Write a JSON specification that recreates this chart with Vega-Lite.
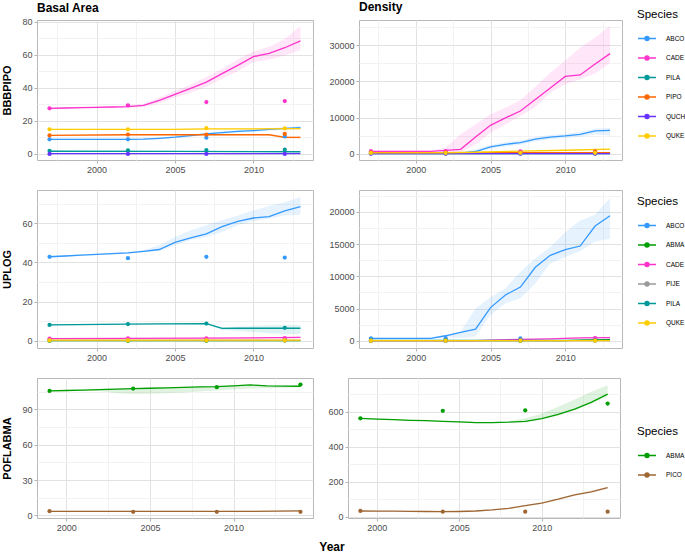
{
"$schema": "https://vega.github.io/schema/vega-lite/v6.json",
"padding": {"top": 0, "left": 1, "right": 0, "bottom": 0},
"background": "white",
"title": {"text": "Year", "orient": "bottom", "anchor": "middle", "fontSize": 12, "fontWeight": "bold", "color": "#000", "offset": 9, "dx": -12},
"datasets": {
"L": [
{"p":"1B","sp":"ABCO","yr":1997,"f":8.7,"lo":8.3,"hi":9.1},{"p":"1B","sp":"ABCO","yr":1998,"f":8.7,"lo":8.3,"hi":9.1},{"p":"1B","sp":"ABCO","yr":1999,"f":8.7,"lo":8.3,"hi":9.1},{"p":"1B","sp":"ABCO","yr":2000,"f":8.7,"lo":8.3,"hi":9.1},{"p":"1B","sp":"ABCO","yr":2001,"f":8.7,"lo":8.3,"hi":9.1},{"p":"1B","sp":"ABCO","yr":2002,"f":8.7,"lo":8.3,"hi":9.1},{"p":"1B","sp":"ABCO","yr":2003,"f":8.8,"lo":8.4,"hi":9.2},{"p":"1B","sp":"ABCO","yr":2004,"f":9.3,"lo":8.8,"hi":9.8},{"p":"1B","sp":"ABCO","yr":2005,"f":10.0,"lo":9.4,"hi":10.6},{"p":"1B","sp":"ABCO","yr":2006,"f":11.0,"lo":10.3,"hi":11.7},{"p":"1B","sp":"ABCO","yr":2007,"f":12.0,"lo":11.3,"hi":12.7},{"p":"1B","sp":"ABCO","yr":2008,"f":12.8,"lo":12.0,"hi":13.6},{"p":"1B","sp":"ABCO","yr":2009,"f":13.5,"lo":12.7,"hi":14.3},{"p":"1B","sp":"ABCO","yr":2010,"f":14.0,"lo":13.2,"hi":14.8},{"p":"1B","sp":"ABCO","yr":2011,"f":14.7,"lo":13.9,"hi":15.5},{"p":"1B","sp":"ABCO","yr":2012,"f":15.3,"lo":14.5,"hi":16.1},{"p":"1B","sp":"ABCO","yr":2013,"f":15.8,"lo":14.8,"hi":16.8},
{"p":"1B","sp":"CADE","yr":1997,"f":27.5,"lo":27,"hi":28},{"p":"1B","sp":"CADE","yr":1998,"f":27.7,"lo":27.2,"hi":28.2},{"p":"1B","sp":"CADE","yr":1999,"f":27.9,"lo":27.4,"hi":28.4},{"p":"1B","sp":"CADE","yr":2000,"f":28.1,"lo":27.6,"hi":28.6},{"p":"1B","sp":"CADE","yr":2001,"f":28.3,"lo":27.8,"hi":28.8},{"p":"1B","sp":"CADE","yr":2002,"f":28.5,"lo":27.8,"hi":29.2},{"p":"1B","sp":"CADE","yr":2003,"f":29.3,"lo":28.3,"hi":30.3},{"p":"1B","sp":"CADE","yr":2004,"f":32.3,"lo":30.5,"hi":34},{"p":"1B","sp":"CADE","yr":2005,"f":36.0,"lo":34,"hi":38},{"p":"1B","sp":"CADE","yr":2006,"f":39.6,"lo":37,"hi":42},{"p":"1B","sp":"CADE","yr":2007,"f":43.4,"lo":40.5,"hi":46.5},{"p":"1B","sp":"CADE","yr":2008,"f":48.5,"lo":45.5,"hi":51.5},{"p":"1B","sp":"CADE","yr":2009,"f":53.5,"lo":50,"hi":57},{"p":"1B","sp":"CADE","yr":2010,"f":58.8,"lo":55.5,"hi":62},{"p":"1B","sp":"CADE","yr":2011,"f":60.8,"lo":57,"hi":64.8},{"p":"1B","sp":"CADE","yr":2012,"f":64.2,"lo":59.5,"hi":69.5},{"p":"1B","sp":"CADE","yr":2013,"f":68.3,"lo":62.8,"hi":77.4},
{"p":"1B","sp":"PILA","yr":1997,"f":1.5,"lo":1.2,"hi":1.8},{"p":"1B","sp":"PILA","yr":2005,"f":1.4,"lo":1.1,"hi":1.7},{"p":"1B","sp":"PILA","yr":2013,"f":1.2,"lo":0.9,"hi":1.5},
{"p":"1B","sp":"PIPO","yr":1997,"f":11.1,"lo":10.7,"hi":11.5},{"p":"1B","sp":"PIPO","yr":2002,"f":11.5,"lo":11.1,"hi":11.9},{"p":"1B","sp":"PIPO","yr":2011,"f":11.5,"lo":11.0,"hi":12.0},{"p":"1B","sp":"PIPO","yr":2012,"f":9.9,"lo":9.2,"hi":10.6},{"p":"1B","sp":"PIPO","yr":2013,"f":9.9,"lo":9.1,"hi":10.7},
{"p":"1B","sp":"QUCH","yr":1997,"f":0.1,"lo":0,"hi":0.2},{"p":"1B","sp":"QUCH","yr":2013,"f":0.1,"lo":0,"hi":0.2},
{"p":"1B","sp":"QUKE","yr":1997,"f":14.8,"lo":14.4,"hi":15.2},{"p":"1B","sp":"QUKE","yr":2005,"f":14.8,"lo":14.4,"hi":15.2},{"p":"1B","sp":"QUKE","yr":2007,"f":15.0,"lo":14.5,"hi":15.5},{"p":"1B","sp":"QUKE","yr":2013,"f":15.2,"lo":14.6,"hi":15.8},

{"p":"1D","sp":"ABCO","yr":1997,"f":100,"lo":-50,"hi":250},{"p":"1D","sp":"ABCO","yr":2001,"f":100,"lo":-50,"hi":250},{"p":"1D","sp":"ABCO","yr":2002,"f":120,"lo":-30,"hi":300},{"p":"1D","sp":"ABCO","yr":2003,"f":150,"lo":0,"hi":400},{"p":"1D","sp":"ABCO","yr":2004,"f":600,"lo":200,"hi":1200},{"p":"1D","sp":"ABCO","yr":2005,"f":1900,"lo":1400,"hi":2400},{"p":"1D","sp":"ABCO","yr":2006,"f":2600,"lo":2000,"hi":3200},{"p":"1D","sp":"ABCO","yr":2007,"f":3050,"lo":2450,"hi":3650},{"p":"1D","sp":"ABCO","yr":2008,"f":4000,"lo":3400,"hi":4600},{"p":"1D","sp":"ABCO","yr":2009,"f":4600,"lo":4000,"hi":5200},{"p":"1D","sp":"ABCO","yr":2010,"f":4900,"lo":4300,"hi":5500},{"p":"1D","sp":"ABCO","yr":2011,"f":5350,"lo":4700,"hi":6000},{"p":"1D","sp":"ABCO","yr":2012,"f":6300,"lo":5300,"hi":7000},{"p":"1D","sp":"ABCO","yr":2013,"f":6450,"lo":5000,"hi":7100},
{"p":"1D","sp":"CADE","yr":1997,"f":600,"lo":400,"hi":850},{"p":"1D","sp":"CADE","yr":1998,"f":600,"lo":400,"hi":850},{"p":"1D","sp":"CADE","yr":1999,"f":600,"lo":400,"hi":850},{"p":"1D","sp":"CADE","yr":2000,"f":600,"lo":400,"hi":850},{"p":"1D","sp":"CADE","yr":2001,"f":650,"lo":400,"hi":900},{"p":"1D","sp":"CADE","yr":2002,"f":900,"lo":300,"hi":1700},{"p":"1D","sp":"CADE","yr":2003,"f":1200,"lo":300,"hi":5400},{"p":"1D","sp":"CADE","yr":2004,"f":4600,"lo":2600,"hi":8100},{"p":"1D","sp":"CADE","yr":2005,"f":7850,"lo":5800,"hi":10900},{"p":"1D","sp":"CADE","yr":2006,"f":9900,"lo":8100,"hi":12700},{"p":"1D","sp":"CADE","yr":2007,"f":11800,"lo":10400,"hi":14800},{"p":"1D","sp":"CADE","yr":2008,"f":15000,"lo":12900,"hi":18500},{"p":"1D","sp":"CADE","yr":2009,"f":18200,"lo":16900,"hi":22400},{"p":"1D","sp":"CADE","yr":2010,"f":21400,"lo":19200,"hi":25700},{"p":"1D","sp":"CADE","yr":2011,"f":21800,"lo":20600,"hi":29400},{"p":"1D","sp":"CADE","yr":2012,"f":24800,"lo":22200,"hi":32100},{"p":"1D","sp":"CADE","yr":2013,"f":27700,"lo":25200,"hi":35400},
{"p":"1D","sp":"PILA","yr":1997,"f":50,"lo":0,"hi":100},{"p":"1D","sp":"PILA","yr":2013,"f":50,"lo":0,"hi":100},
{"p":"1D","sp":"PIPO","yr":1997,"f":250,"lo":150,"hi":350},{"p":"1D","sp":"PIPO","yr":2013,"f":250,"lo":150,"hi":350},
{"p":"1D","sp":"QUCH","yr":1997,"f":0,"lo":-30,"hi":30},{"p":"1D","sp":"QUCH","yr":2013,"f":0,"lo":-30,"hi":30},
{"p":"1D","sp":"QUKE","yr":1997,"f":200,"lo":100,"hi":300},{"p":"1D","sp":"QUKE","yr":2002,"f":250,"lo":150,"hi":350},{"p":"1D","sp":"QUKE","yr":2004,"f":400,"lo":300,"hi":500},{"p":"1D","sp":"QUKE","yr":2007,"f":700,"lo":550,"hi":850},{"p":"1D","sp":"QUKE","yr":2010,"f":950,"lo":800,"hi":1100},{"p":"1D","sp":"QUKE","yr":2013,"f":1250,"lo":1050,"hi":1450},

{"p":"2B","sp":"ABCO","yr":1997,"f":42.9,"lo":42.5,"hi":43.3},{"p":"2B","sp":"ABCO","yr":1998,"f":43.3,"lo":42.9,"hi":43.7},{"p":"2B","sp":"ABCO","yr":1999,"f":43.7,"lo":43.3,"hi":44.1},{"p":"2B","sp":"ABCO","yr":2000,"f":44.1,"lo":43.7,"hi":44.5},{"p":"2B","sp":"ABCO","yr":2001,"f":44.5,"lo":44.1,"hi":44.9},{"p":"2B","sp":"ABCO","yr":2002,"f":44.9,"lo":44.5,"hi":45.3},{"p":"2B","sp":"ABCO","yr":2003,"f":45.7,"lo":45.3,"hi":46.3},{"p":"2B","sp":"ABCO","yr":2004,"f":46.6,"lo":45.8,"hi":48.8},{"p":"2B","sp":"ABCO","yr":2005,"f":50.2,"lo":48.8,"hi":53},{"p":"2B","sp":"ABCO","yr":2006,"f":52.5,"lo":51.4,"hi":56.4},{"p":"2B","sp":"ABCO","yr":2007,"f":54.6,"lo":53,"hi":59},{"p":"2B","sp":"ABCO","yr":2008,"f":58.3,"lo":55.6,"hi":61.5},{"p":"2B","sp":"ABCO","yr":2009,"f":61.0,"lo":59,"hi":64},{"p":"2B","sp":"ABCO","yr":2010,"f":62.7,"lo":61,"hi":66.6},{"p":"2B","sp":"ABCO","yr":2011,"f":63.4,"lo":62.4,"hi":68.8},{"p":"2B","sp":"ABCO","yr":2012,"f":66.3,"lo":64,"hi":70.8},{"p":"2B","sp":"ABCO","yr":2013,"f":68.5,"lo":64.4,"hi":73.4},
{"p":"2B","sp":"ABMA","yr":1997,"f":0.1,"lo":0,"hi":0.2},{"p":"2B","sp":"ABMA","yr":2013,"f":0.1,"lo":0,"hi":0.2},
{"p":"2B","sp":"CADE","yr":1997,"f":1.1,"lo":0.9,"hi":1.3},{"p":"2B","sp":"CADE","yr":2007,"f":1.3,"lo":1.1,"hi":1.5},{"p":"2B","sp":"CADE","yr":2013,"f":1.7,"lo":1.3,"hi":2.1},
{"p":"2B","sp":"PIJE","yr":1997,"f":0.2,"lo":0.1,"hi":0.3},{"p":"2B","sp":"PIJE","yr":2013,"f":0.2,"lo":0.1,"hi":0.3},
{"p":"2B","sp":"PILA","yr":1997,"f":8.1,"lo":7.8,"hi":8.4},{"p":"2B","sp":"PILA","yr":2002,"f":8.5,"lo":8.2,"hi":8.8},{"p":"2B","sp":"PILA","yr":2004,"f":8.6,"lo":8.3,"hi":8.9},{"p":"2B","sp":"PILA","yr":2007,"f":8.8,"lo":8.4,"hi":9.2},{"p":"2B","sp":"PILA","yr":2008,"f":6.3,"lo":5.5,"hi":7.0},{"p":"2B","sp":"PILA","yr":2009,"f":6.4,"lo":5.0,"hi":7.3},{"p":"2B","sp":"PILA","yr":2010,"f":6.4,"lo":4.5,"hi":7.6},{"p":"2B","sp":"PILA","yr":2011,"f":6.4,"lo":3.8,"hi":7.9},{"p":"2B","sp":"PILA","yr":2012,"f":6.4,"lo":3.4,"hi":8.0},{"p":"2B","sp":"PILA","yr":2013,"f":6.4,"lo":3.3,"hi":8.0},
{"p":"2B","sp":"QUKE","yr":1997,"f":0.3,"lo":0.1,"hi":0.5},{"p":"2B","sp":"QUKE","yr":2013,"f":0.3,"lo":0.1,"hi":0.5},

{"p":"2D","sp":"ABCO","yr":1997,"f":360,"lo":260,"hi":460},{"p":"2D","sp":"ABCO","yr":1998,"f":360,"lo":260,"hi":460},{"p":"2D","sp":"ABCO","yr":1999,"f":360,"lo":260,"hi":460},{"p":"2D","sp":"ABCO","yr":2000,"f":360,"lo":260,"hi":460},{"p":"2D","sp":"ABCO","yr":2001,"f":360,"lo":260,"hi":460},{"p":"2D","sp":"ABCO","yr":2002,"f":770,"lo":600,"hi":950},{"p":"2D","sp":"ABCO","yr":2003,"f":1290,"lo":410,"hi":1440},{"p":"2D","sp":"ABCO","yr":2004,"f":1800,"lo":670,"hi":5000},{"p":"2D","sp":"ABCO","yr":2005,"f":5140,"lo":4010,"hi":6730},{"p":"2D","sp":"ABCO","yr":2006,"f":7100,"lo":5810,"hi":8120},{"p":"2D","sp":"ABCO","yr":2007,"f":8330,"lo":6580,"hi":10700},{"p":"2D","sp":"ABCO","yr":2008,"f":11400,"lo":8900,"hi":12750},{"p":"2D","sp":"ABCO","yr":2009,"f":13260,"lo":11980,"hi":14550},{"p":"2D","sp":"ABCO","yr":2010,"f":14140,"lo":13000,"hi":16860},{"p":"2D","sp":"ABCO","yr":2011,"f":14700,"lo":13900,"hi":18660},{"p":"2D","sp":"ABCO","yr":2012,"f":17800,"lo":15420,"hi":19540},{"p":"2D","sp":"ABCO","yr":2013,"f":19400,"lo":15840,"hi":22160},
{"p":"2D","sp":"ABMA","yr":1997,"f":0,"lo":-30,"hi":30},{"p":"2D","sp":"ABMA","yr":2010,"f":0,"lo":-30,"hi":30},{"p":"2D","sp":"ABMA","yr":2011,"f":100,"lo":50,"hi":150},{"p":"2D","sp":"ABMA","yr":2013,"f":150,"lo":100,"hi":200},
{"p":"2D","sp":"CADE","yr":1997,"f":20,"lo":0,"hi":40},{"p":"2D","sp":"CADE","yr":2004,"f":20,"lo":0,"hi":40},{"p":"2D","sp":"CADE","yr":2005,"f":100,"lo":50,"hi":150},{"p":"2D","sp":"CADE","yr":2007,"f":200,"lo":120,"hi":280},{"p":"2D","sp":"CADE","yr":2009,"f":300,"lo":220,"hi":380},{"p":"2D","sp":"CADE","yr":2011,"f":450,"lo":350,"hi":550},{"p":"2D","sp":"CADE","yr":2013,"f":470,"lo":350,"hi":600},
{"p":"2D","sp":"PIJE","yr":1997,"f":20,"lo":0,"hi":40},{"p":"2D","sp":"PIJE","yr":2013,"f":20,"lo":0,"hi":40},
{"p":"2D","sp":"PILA","yr":1997,"f":50,"lo":20,"hi":80},{"p":"2D","sp":"PILA","yr":2013,"f":50,"lo":20,"hi":80},
{"p":"2D","sp":"QUKE","yr":1997,"f":30,"lo":0,"hi":60},{"p":"2D","sp":"QUKE","yr":2013,"f":30,"lo":0,"hi":60},

{"p":"3B","sp":"ABMA","yr":1999,"f":105.5,"lo":105.2,"hi":105.8},{"p":"3B","sp":"ABMA","yr":2000,"f":105.9,"lo":105.5,"hi":106.3},{"p":"3B","sp":"ABMA","yr":2001,"f":106.3,"lo":105.6,"hi":106.8},{"p":"3B","sp":"ABMA","yr":2002,"f":106.7,"lo":105.4,"hi":107.2},{"p":"3B","sp":"ABMA","yr":2003,"f":107.1,"lo":103.6,"hi":107.6},{"p":"3B","sp":"ABMA","yr":2004,"f":107.5,"lo":103,"hi":107.9},{"p":"3B","sp":"ABMA","yr":2005,"f":107.8,"lo":103.2,"hi":108.3},{"p":"3B","sp":"ABMA","yr":2006,"f":108.2,"lo":103.6,"hi":108.6},{"p":"3B","sp":"ABMA","yr":2007,"f":108.5,"lo":104.2,"hi":108.9},{"p":"3B","sp":"ABMA","yr":2008,"f":108.9,"lo":105,"hi":109.3},{"p":"3B","sp":"ABMA","yr":2009,"f":109.2,"lo":105.8,"hi":109.6},{"p":"3B","sp":"ABMA","yr":2010,"f":109.9,"lo":106.8,"hi":110.3},{"p":"3B","sp":"ABMA","yr":2011,"f":110.6,"lo":107.5,"hi":111},{"p":"3B","sp":"ABMA","yr":2012,"f":109.8,"lo":107.8,"hi":110.3},{"p":"3B","sp":"ABMA","yr":2013,"f":109.6,"lo":108.2,"hi":110.2},{"p":"3B","sp":"ABMA","yr":2014,"f":109.5,"lo":108.6,"hi":110.2},
{"p":"3B","sp":"PICO","yr":1999,"f":3.4,"lo":2.9,"hi":3.9},{"p":"3B","sp":"PICO","yr":2011,"f":3.4,"lo":2.9,"hi":3.9},{"p":"3B","sp":"PICO","yr":2014,"f":3.8,"lo":3.2,"hi":4.4},

{"p":"3D","sp":"ABMA","yr":1999,"f":562,"lo":559,"hi":565},{"p":"3D","sp":"ABMA","yr":2000,"f":558,"lo":555,"hi":561},{"p":"3D","sp":"ABMA","yr":2001,"f":555,"lo":552,"hi":558},{"p":"3D","sp":"ABMA","yr":2002,"f":551,"lo":548,"hi":554},{"p":"3D","sp":"ABMA","yr":2003,"f":549,"lo":546,"hi":552},{"p":"3D","sp":"ABMA","yr":2004,"f":545,"lo":542,"hi":548},{"p":"3D","sp":"ABMA","yr":2005,"f":542,"lo":539,"hi":545},{"p":"3D","sp":"ABMA","yr":2006,"f":538,"lo":535,"hi":541},{"p":"3D","sp":"ABMA","yr":2007,"f":538,"lo":535,"hi":541},{"p":"3D","sp":"ABMA","yr":2008,"f":540,"lo":537,"hi":545},{"p":"3D","sp":"ABMA","yr":2009,"f":545,"lo":540,"hi":562},{"p":"3D","sp":"ABMA","yr":2010,"f":560,"lo":557,"hi":590},{"p":"3D","sp":"ABMA","yr":2011,"f":585,"lo":577,"hi":628},{"p":"3D","sp":"ABMA","yr":2012,"f":615,"lo":609,"hi":670},{"p":"3D","sp":"ABMA","yr":2013,"f":653,"lo":647,"hi":713},{"p":"3D","sp":"ABMA","yr":2014,"f":700,"lo":688,"hi":750},
{"p":"3D","sp":"PICO","yr":1999,"f":34,"lo":31,"hi":37},{"p":"3D","sp":"PICO","yr":2000,"f":33,"lo":30,"hi":36},{"p":"3D","sp":"PICO","yr":2001,"f":33,"lo":30,"hi":36},{"p":"3D","sp":"PICO","yr":2002,"f":32,"lo":29,"hi":35},{"p":"3D","sp":"PICO","yr":2003,"f":31,"lo":28,"hi":34},{"p":"3D","sp":"PICO","yr":2004,"f":30,"lo":27,"hi":33},{"p":"3D","sp":"PICO","yr":2005,"f":31,"lo":28,"hi":34},{"p":"3D","sp":"PICO","yr":2006,"f":34,"lo":31,"hi":37},{"p":"3D","sp":"PICO","yr":2007,"f":40,"lo":37,"hi":43},{"p":"3D","sp":"PICO","yr":2008,"f":49,"lo":46,"hi":53},{"p":"3D","sp":"PICO","yr":2009,"f":64,"lo":60,"hi":68},{"p":"3D","sp":"PICO","yr":2010,"f":79,"lo":75,"hi":83},{"p":"3D","sp":"PICO","yr":2011,"f":101,"lo":97,"hi":106},{"p":"3D","sp":"PICO","yr":2012,"f":126,"lo":121,"hi":131},{"p":"3D","sp":"PICO","yr":2013,"f":143,"lo":138,"hi":149},{"p":"3D","sp":"PICO","yr":2014,"f":167,"lo":161,"hi":173}
],
"P": [
{"p":"1B","sp":"ABCO","yr":1997,"f":8.7},{"p":"1B","sp":"ABCO","yr":2002,"f":8.7},{"p":"1B","sp":"ABCO","yr":2007,"f":9.7},{"p":"1B","sp":"ABCO","yr":2012,"f":10.5},
{"p":"1B","sp":"CADE","yr":1997,"f":27.5},{"p":"1B","sp":"CADE","yr":2002,"f":29.3},{"p":"1B","sp":"CADE","yr":2007,"f":31.3},{"p":"1B","sp":"CADE","yr":2012,"f":31.9},
{"p":"1B","sp":"PILA","yr":1997,"f":1.8},{"p":"1B","sp":"PILA","yr":2002,"f":2.0},{"p":"1B","sp":"PILA","yr":2007,"f":2.2},{"p":"1B","sp":"PILA","yr":2012,"f":2.5},
{"p":"1B","sp":"PIPO","yr":1997,"f":11.1},{"p":"1B","sp":"PIPO","yr":2002,"f":11.6},{"p":"1B","sp":"PIPO","yr":2007,"f":11.5},{"p":"1B","sp":"PIPO","yr":2012,"f":12.0},
{"p":"1B","sp":"QUCH","yr":1997,"f":-0.1},{"p":"1B","sp":"QUCH","yr":2002,"f":-0.1},{"p":"1B","sp":"QUCH","yr":2007,"f":-0.1},{"p":"1B","sp":"QUCH","yr":2012,"f":-0.1},
{"p":"1B","sp":"QUKE","yr":1997,"f":14.8},{"p":"1B","sp":"QUKE","yr":2002,"f":14.8},{"p":"1B","sp":"QUKE","yr":2007,"f":15.5},{"p":"1B","sp":"QUKE","yr":2012,"f":15.3},
{"p":"1D","sp":"ABCO","yr":1997,"f":200},{"p":"1D","sp":"ABCO","yr":2002,"f":250},{"p":"1D","sp":"ABCO","yr":2007,"f":150},{"p":"1D","sp":"ABCO","yr":2012,"f":300},
{"p":"1D","sp":"CADE","yr":1997,"f":700},{"p":"1D","sp":"CADE","yr":2002,"f":700},{"p":"1D","sp":"CADE","yr":2007,"f":650},{"p":"1D","sp":"CADE","yr":2012,"f":600},
{"p":"1D","sp":"PILA","yr":1997,"f":50},{"p":"1D","sp":"PILA","yr":2002,"f":50},{"p":"1D","sp":"PILA","yr":2007,"f":50},{"p":"1D","sp":"PILA","yr":2012,"f":50},
{"p":"1D","sp":"PIPO","yr":1997,"f":300},{"p":"1D","sp":"PIPO","yr":2002,"f":300},{"p":"1D","sp":"PIPO","yr":2007,"f":300},{"p":"1D","sp":"PIPO","yr":2012,"f":550},
{"p":"1D","sp":"QUCH","yr":1997,"f":0},{"p":"1D","sp":"QUCH","yr":2002,"f":0},{"p":"1D","sp":"QUCH","yr":2007,"f":0},{"p":"1D","sp":"QUCH","yr":2012,"f":0},
{"p":"1D","sp":"QUKE","yr":1997,"f":200},{"p":"1D","sp":"QUKE","yr":2002,"f":200},{"p":"1D","sp":"QUKE","yr":2007,"f":250},{"p":"1D","sp":"QUKE","yr":2012,"f":250},
{"p":"2B","sp":"ABCO","yr":1997,"f":42.9},{"p":"2B","sp":"ABCO","yr":2002,"f":42.2},{"p":"2B","sp":"ABCO","yr":2007,"f":42.9},{"p":"2B","sp":"ABCO","yr":2012,"f":42.5},
{"p":"2B","sp":"ABMA","yr":1997,"f":0},{"p":"2B","sp":"ABMA","yr":2002,"f":0},{"p":"2B","sp":"ABMA","yr":2007,"f":0},{"p":"2B","sp":"ABMA","yr":2012,"f":0.1},
{"p":"2B","sp":"CADE","yr":1997,"f":1.1},{"p":"2B","sp":"CADE","yr":2002,"f":1.2},{"p":"2B","sp":"CADE","yr":2007,"f":1.2},{"p":"2B","sp":"CADE","yr":2012,"f":1.3},
{"p":"2B","sp":"PIJE","yr":1997,"f":0.2},{"p":"2B","sp":"PIJE","yr":2002,"f":0.2},{"p":"2B","sp":"PIJE","yr":2007,"f":0.2},{"p":"2B","sp":"PIJE","yr":2012,"f":0.2},
{"p":"2B","sp":"PILA","yr":1997,"f":8.1},{"p":"2B","sp":"PILA","yr":2002,"f":8.5},{"p":"2B","sp":"PILA","yr":2007,"f":8.8},{"p":"2B","sp":"PILA","yr":2012,"f":6.6},
{"p":"2B","sp":"QUKE","yr":1997,"f":0.2},{"p":"2B","sp":"QUKE","yr":2002,"f":0.2},{"p":"2B","sp":"QUKE","yr":2007,"f":0.2},{"p":"2B","sp":"QUKE","yr":2012,"f":0.2},
{"p":"2D","sp":"ABCO","yr":1997,"f":360},{"p":"2D","sp":"ABCO","yr":2002,"f":400},{"p":"2D","sp":"ABCO","yr":2007,"f":360},{"p":"2D","sp":"ABCO","yr":2012,"f":360},
{"p":"2D","sp":"ABMA","yr":1997,"f":0},{"p":"2D","sp":"ABMA","yr":2002,"f":0},{"p":"2D","sp":"ABMA","yr":2007,"f":0},{"p":"2D","sp":"ABMA","yr":2012,"f":150},
{"p":"2D","sp":"CADE","yr":1997,"f":0},{"p":"2D","sp":"CADE","yr":2002,"f":0},{"p":"2D","sp":"CADE","yr":2007,"f":150},{"p":"2D","sp":"CADE","yr":2012,"f":400},
{"p":"2D","sp":"PIJE","yr":1997,"f":0},{"p":"2D","sp":"PIJE","yr":2002,"f":0},{"p":"2D","sp":"PIJE","yr":2007,"f":0},{"p":"2D","sp":"PIJE","yr":2012,"f":0},
{"p":"2D","sp":"PILA","yr":1997,"f":50},{"p":"2D","sp":"PILA","yr":2002,"f":50},{"p":"2D","sp":"PILA","yr":2007,"f":50},{"p":"2D","sp":"PILA","yr":2012,"f":50},
{"p":"2D","sp":"QUKE","yr":1997,"f":0},{"p":"2D","sp":"QUKE","yr":2002,"f":0},{"p":"2D","sp":"QUKE","yr":2007,"f":0},{"p":"2D","sp":"QUKE","yr":2012,"f":0},
{"p":"3B","sp":"ABMA","yr":1999,"f":105.5},{"p":"3B","sp":"ABMA","yr":2004,"f":107.5},{"p":"3B","sp":"ABMA","yr":2009,"f":108.7},{"p":"3B","sp":"ABMA","yr":2014,"f":110.9},
{"p":"3B","sp":"PICO","yr":1999,"f":3.6},{"p":"3B","sp":"PICO","yr":2004,"f":3.0},{"p":"3B","sp":"PICO","yr":2009,"f":3.0},{"p":"3B","sp":"PICO","yr":2014,"f":3.0},
{"p":"3D","sp":"ABMA","yr":1999,"f":562},{"p":"3D","sp":"ABMA","yr":2004,"f":605},{"p":"3D","sp":"ABMA","yr":2009,"f":608},{"p":"3D","sp":"ABMA","yr":2014,"f":646},
{"p":"3D","sp":"PICO","yr":1999,"f":34},{"p":"3D","sp":"PICO","yr":2004,"f":30},{"p":"3D","sp":"PICO","yr":2009,"f":30},{"p":"3D","sp":"PICO","yr":2014,"f":30}
]
},
"spacing": 14,
"resolve": {"scale": {"color": "independent"}, "legend": {"color": "independent"}},
"vconcat": [
{"hconcat": [
{"width": 276, "height": 140,
 "title": {"text": "Basal Area", "anchor": "start", "frame": "group", "fontSize": 12, "fontWeight": "bold", "color": "#000", "offset": 3},
 "encoding": {
  "x": {"field": "yr", "type": "quantitative", "title": null, "scale": {"domain": [1996.2, 2013.8], "nice": false, "zero": false},
        "axis": {"values": [1997.5,2000,2002.5,2005,2007.5,2010,2012.5], "format": "d", "labelExpr": "datum.value % 5 === 0 ? datum.label : ''", "gridColor": {"condition": {"test": "datum.value % 5 !== 0", "value": "#F2F2F2"}, "value": "#E2E2E2"}, "tickOpacity": {"condition": {"test": "datum.value % 5 !== 0", "value": 0}, "value": 1}}},
  "y": {"field": "f", "type": "quantitative", "title": "BBBPIPO", "scale": {"domain": [-3.8, 81], "nice": false, "zero": false},
        "axis": {"values": [0,10,20,30,40,50,60,70,80], "format": "d", "titlePadding": 9, "labelExpr": "datum.value % 20 === 0 ? datum.label : ''", "gridColor": {"condition": {"test": "datum.value % 20 !== 0", "value": "#F2F2F2"}, "value": "#E2E2E2"}, "tickOpacity": {"condition": {"test": "datum.value % 20 !== 0", "value": 0}, "value": 1}}},
  "color": {"field": "sp", "type": "nominal", "scale": {"domain": ["ABCO","ABMA","CADE","PICO","PIJE","PILA","PIPO","QUCH","QUKE"], "range": ["#3399FF","#009E00","#FF33CC","#9E6633","#999999","#009999","#FF6600","#6633FF","#FFCC00"]}, "legend": null}
 },
 "layer": [
  {"data": {"name": "L"}, "transform": [{"filter": "datum.p === '1B'"}], "mark": {"type": "area", "opacity": 0.12}, "encoding": {"y": {"field": "lo", "type": "quantitative", "title": "BBBPIPO"}, "y2": {"field": "hi"}}},
  {"data": {"name": "L"}, "transform": [{"filter": "datum.p === '1B'"}], "mark": {"type": "line", "strokeWidth": 1.3}},
  {"data": {"name": "P"}, "transform": [{"filter": "datum.p === '1B'"}], "mark": {"type": "point", "filled": true, "size": 18, "opacity": 1}}
 ]},
{"width": 263, "height": 140,
 "title": {"text": "Density", "anchor": "start", "frame": "group", "fontSize": 12, "fontWeight": "bold", "color": "#000", "offset": -5},
 "encoding": {
  "x": {"field": "yr", "type": "quantitative", "title": null, "scale": {"domain": [1996.2, 2013.8], "nice": false, "zero": false},
        "axis": {"values": [1997.5,2000,2002.5,2005,2007.5,2010,2012.5], "format": "d", "labelExpr": "datum.value % 5 === 0 ? datum.label : ''", "gridColor": {"condition": {"test": "datum.value % 5 !== 0", "value": "#F2F2F2"}, "value": "#E2E2E2"}, "tickOpacity": {"condition": {"test": "datum.value % 5 !== 0", "value": 0}, "value": 1}}},
  "y": {"field": "f", "type": "quantitative", "title": null, "scale": {"domain": [-1750, 37000], "nice": false, "zero": false},
        "axis": {"values": [0,5000,10000,15000,20000,25000,30000,35000], "format": "d", "labelExpr": "datum.value % 10000 === 0 ? datum.label : ''", "gridColor": {"condition": {"test": "datum.value % 10000 !== 0", "value": "#F2F2F2"}, "value": "#E2E2E2"}, "tickOpacity": {"condition": {"test": "datum.value % 10000 !== 0", "value": 0}, "value": 1}}},
  "color": {"field": "sp", "type": "nominal", "scale": {"domain": ["ABCO","ABMA","CADE","PICO","PIJE","PILA","PIPO","QUCH","QUKE"], "range": ["#3399FF","#009E00","#FF33CC","#9E6633","#999999","#009999","#FF6600","#6633FF","#FFCC00"]},
   "legend": {"title": "Species", "values": ["ABCO","CADE","PILA","PIPO","QUCH","QUKE"], "orient": "none", "legendX": 278, "legendY": -11}}
 },
 "layer": [
  {"data": {"name": "L"}, "transform": [{"filter": "datum.p === '1D'"}], "mark": {"type": "area", "opacity": 0.12}, "encoding": {"y": {"field": "lo", "type": "quantitative", "title": null}, "y2": {"field": "hi"}}},
  {"data": {"name": "L"}, "transform": [{"filter": "datum.p === '1D'"}], "mark": {"type": "line", "strokeWidth": 1.3}},
  {"data": {"name": "P"}, "transform": [{"filter": "datum.p === '1D'"}], "mark": {"type": "point", "filled": true, "size": 18, "opacity": 1}}
 ]}
], "spacing": 46, "bounds": "flush", "resolve": {"scale": {"color": "independent"}, "legend": {"color": "independent"}}},

{"hconcat": [
{"width": 276, "height": 158,
 "encoding": {
  "x": {"field": "yr", "type": "quantitative", "title": null, "scale": {"domain": [1996.2, 2013.8], "nice": false, "zero": false},
        "axis": {"values": [1997.5,2000,2002.5,2005,2007.5,2010,2012.5], "format": "d", "labelExpr": "datum.value % 5 === 0 ? datum.label : ''", "gridColor": {"condition": {"test": "datum.value % 5 !== 0", "value": "#F2F2F2"}, "value": "#E2E2E2"}, "tickOpacity": {"condition": {"test": "datum.value % 5 !== 0", "value": 0}, "value": 1}}},
  "y": {"field": "f", "type": "quantitative", "title": "UPLOG", "scale": {"domain": [-3.7, 77], "nice": false, "zero": false},
        "axis": {"values": [0,10,20,30,40,50,60,70], "format": "d", "titlePadding": 9, "labelExpr": "datum.value % 20 === 0 ? datum.label : ''", "gridColor": {"condition": {"test": "datum.value % 20 !== 0", "value": "#F2F2F2"}, "value": "#E2E2E2"}, "tickOpacity": {"condition": {"test": "datum.value % 20 !== 0", "value": 0}, "value": 1}}},
  "color": {"field": "sp", "type": "nominal", "scale": {"domain": ["ABCO","ABMA","CADE","PICO","PIJE","PILA","PIPO","QUCH","QUKE"], "range": ["#3399FF","#009E00","#FF33CC","#9E6633","#999999","#009999","#FF6600","#6633FF","#FFCC00"]}, "legend": null}
 },
 "layer": [
  {"data": {"name": "L"}, "transform": [{"filter": "datum.p === '2B'"}], "mark": {"type": "area", "opacity": 0.12}, "encoding": {"y": {"field": "lo", "type": "quantitative", "title": "UPLOG"}, "y2": {"field": "hi"}}},
  {"data": {"name": "L"}, "transform": [{"filter": "datum.p === '2B'"}], "mark": {"type": "line", "strokeWidth": 1.3}},
  {"data": {"name": "P"}, "transform": [{"filter": "datum.p === '2B'"}], "mark": {"type": "point", "filled": true, "size": 18, "opacity": 1}}
 ]},
{"width": 263, "height": 158,
 "encoding": {
  "x": {"field": "yr", "type": "quantitative", "title": null, "scale": {"domain": [1996.2, 2013.8], "nice": false, "zero": false},
        "axis": {"values": [1997.5,2000,2002.5,2005,2007.5,2010,2012.5], "format": "d", "labelExpr": "datum.value % 5 === 0 ? datum.label : ''", "gridColor": {"condition": {"test": "datum.value % 5 !== 0", "value": "#F2F2F2"}, "value": "#E2E2E2"}, "tickOpacity": {"condition": {"test": "datum.value % 5 !== 0", "value": 0}, "value": 1}}},
  "y": {"field": "f", "type": "quantitative", "title": null, "scale": {"domain": [-1130, 23400], "nice": false, "zero": false},
        "axis": {"values": [0,2500,5000,7500,10000,12500,15000,17500,20000,22500], "format": "d", "labelExpr": "datum.value % 5000 === 0 ? datum.label : ''", "gridColor": {"condition": {"test": "datum.value % 5000 !== 0", "value": "#F2F2F2"}, "value": "#E2E2E2"}, "tickOpacity": {"condition": {"test": "datum.value % 5000 !== 0", "value": 0}, "value": 1}}},
  "color": {"field": "sp", "type": "nominal", "scale": {"domain": ["ABCO","ABMA","CADE","PICO","PIJE","PILA","PIPO","QUCH","QUKE"], "range": ["#3399FF","#009E00","#FF33CC","#9E6633","#999999","#009999","#FF6600","#6633FF","#FFCC00"]},
   "legend": {"title": "Species", "values": ["ABCO","ABMA","CADE","PIJE","PILA","QUKE"], "orient": "none", "legendX": 278, "legendY": 6}}
 },
 "layer": [
  {"data": {"name": "L"}, "transform": [{"filter": "datum.p === '2D'"}], "mark": {"type": "area", "opacity": 0.12}, "encoding": {"y": {"field": "lo", "type": "quantitative", "title": null}, "y2": {"field": "hi"}}},
  {"data": {"name": "L"}, "transform": [{"filter": "datum.p === '2D'"}], "mark": {"type": "line", "strokeWidth": 1.3}},
  {"data": {"name": "P"}, "transform": [{"filter": "datum.p === '2D'"}], "mark": {"type": "point", "filled": true, "size": 18, "opacity": 1}}
 ]}
], "spacing": 46, "bounds": "flush", "resolve": {"scale": {"color": "independent"}, "legend": {"color": "independent"}}},

{"hconcat": [
{"width": 276, "height": 140,
 "encoding": {
  "x": {"field": "yr", "type": "quantitative", "title": null, "scale": {"domain": [1998.25, 2014.75], "nice": false, "zero": false},
        "axis": {"values": [2000,2002.5,2005,2007.5,2010,2012.5], "format": "d", "labelExpr": "datum.value % 5 === 0 ? datum.label : ''", "gridColor": {"condition": {"test": "datum.value % 5 !== 0", "value": "#F2F2F2"}, "value": "#E2E2E2"}, "tickOpacity": {"condition": {"test": "datum.value % 5 !== 0", "value": 0}, "value": 1}}},
  "y": {"field": "f", "type": "quantitative", "title": "POFLABMA", "scale": {"domain": [-2.2, 116.5], "nice": false, "zero": false},
        "axis": {"values": [0,15,30,45,60,75,90,105], "format": "d", "titlePadding": 9, "labelExpr": "datum.value % 30 === 0 ? datum.label : ''", "gridColor": {"condition": {"test": "datum.value % 30 !== 0", "value": "#F2F2F2"}, "value": "#E2E2E2"}, "tickOpacity": {"condition": {"test": "datum.value % 30 !== 0", "value": 0}, "value": 1}}},
  "color": {"field": "sp", "type": "nominal", "scale": {"domain": ["ABCO","ABMA","CADE","PICO","PIJE","PILA","PIPO","QUCH","QUKE"], "range": ["#3399FF","#009E00","#FF33CC","#9E6633","#999999","#009999","#FF6600","#6633FF","#FFCC00"]}, "legend": null}
 },
 "layer": [
  {"data": {"name": "L"}, "transform": [{"filter": "datum.p === '3B'"}], "mark": {"type": "area", "opacity": 0.12}, "encoding": {"y": {"field": "lo", "type": "quantitative", "title": "POFLABMA"}, "y2": {"field": "hi"}}},
  {"data": {"name": "L"}, "transform": [{"filter": "datum.p === '3B'"}], "mark": {"type": "line", "strokeWidth": 1.3}},
  {"data": {"name": "P"}, "transform": [{"filter": "datum.p === '3B'"}], "mark": {"type": "point", "filled": true, "size": 18, "opacity": 1}}
 ]},
{"width": 272, "height": 140,
 "encoding": {
  "x": {"field": "yr", "type": "quantitative", "title": null, "scale": {"domain": [1998.25, 2014.75], "nice": false, "zero": false},
        "axis": {"values": [2000,2002.5,2005,2007.5,2010,2012.5], "format": "d", "labelExpr": "datum.value % 5 === 0 ? datum.label : ''", "gridColor": {"condition": {"test": "datum.value % 5 !== 0", "value": "#F2F2F2"}, "value": "#E2E2E2"}, "tickOpacity": {"condition": {"test": "datum.value % 5 !== 0", "value": 0}, "value": 1}}},
  "y": {"field": "f", "type": "quantitative", "title": null, "scale": {"domain": [-6, 792], "nice": false, "zero": false},
        "axis": {"values": [0,100,200,300,400,500,600,700], "format": "d", "labelExpr": "datum.value % 200 === 0 ? datum.label : ''", "gridColor": {"condition": {"test": "datum.value % 200 !== 0", "value": "#F2F2F2"}, "value": "#E2E2E2"}, "tickOpacity": {"condition": {"test": "datum.value % 200 !== 0", "value": 0}, "value": 1}}},
  "color": {"field": "sp", "type": "nominal", "scale": {"domain": ["ABCO","ABMA","CADE","PICO","PIJE","PILA","PIPO","QUCH","QUKE"], "range": ["#3399FF","#009E00","#FF33CC","#9E6633","#999999","#009999","#FF6600","#6633FF","#FFCC00"]},
   "legend": {"title": "Species", "values": ["ABMA","PICO"], "orient": "none", "legendX": 289, "legendY": 48}}
 },
 "layer": [
  {"data": {"name": "L"}, "transform": [{"filter": "datum.p === '3D'"}], "mark": {"type": "area", "opacity": 0.12}, "encoding": {"y": {"field": "lo", "type": "quantitative", "title": null}, "y2": {"field": "hi"}}},
  {"data": {"name": "L"}, "transform": [{"filter": "datum.p === '3D'"}], "mark": {"type": "line", "strokeWidth": 1.3}},
  {"data": {"name": "P"}, "transform": [{"filter": "datum.p === '3D'"}], "mark": {"type": "point", "filled": true, "size": 18, "opacity": 1}}
 ]}
], "spacing": 35, "bounds": "flush", "resolve": {"scale": {"color": "independent"}, "legend": {"color": "independent"}}}
],
"config": {
 "font": "Liberation Sans",
 "view": {"stroke": "#B8B8B8", "strokeWidth": 1},
 "axis": {"domain": false, "tickColor": "#B3B3B3", "tickSize": 3, "labelColor": "#4D4D4D", "labelFontSize": 9, "labelPadding": 2, "titleFontWeight": "bold", "titleFontSize": 11, "titleColor": "#000", "gridWidth": 1},
 "legend": {"symbolType": "M-1,0L1,0M-0.22,0A0.22,0.22,0,1,1,0.22,0A0.22,0.22,0,1,1,-0.22,0Z", "symbolSize": 324, "symbolStrokeWidth": 1.4, "symbolOpacity": 1, "labelFontSize": 6.5, "labelColor": "#000", "titleFontSize": 11.5, "titleFontWeight": "normal", "titleColor": "#000", "titlePadding": 8, "rowPadding": 4.5, "labelOffset": 9}
}
}
